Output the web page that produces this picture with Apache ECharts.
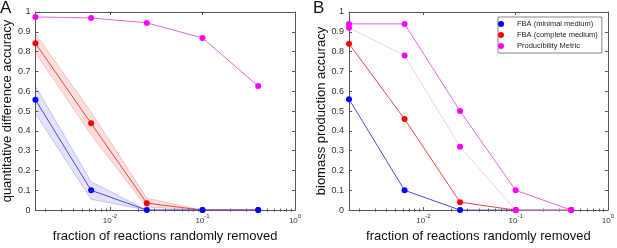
<!DOCTYPE html>
<html>
<head>
<meta charset="utf-8">
<script src="https://cdn.jsdelivr.net/npm/echarts@6/dist/echarts.min.js"></script>
<style>
  html, body { margin: 0; padding: 0; background: #fff; }
  #chart { width: 617px; height: 248px; }
</style>
</head>
<body>
<div id="chart"></div>
<script>
// fraction of reactions randomly removed (x positions, shared by both panels)
const fractions = [0.0015625, 0.00625, 0.025, 0.1, 0.4];
const minorTicks = [0.002, 0.003, 0.004, 0.005, 0.006, 0.007, 0.008, 0.009,
  0.02, 0.03, 0.04, 0.05, 0.06, 0.07, 0.08, 0.09,
  0.2, 0.3, 0.4, 0.5, 0.6, 0.7, 0.8, 0.9];
const majorTicks = [0.01, 0.1, 1];

// panel A: quantitative difference accuracy
const aMinimal = [0.557, 0.10, 0, 0, 0];
const aMinimalLow = [0.488, 0.055, 0, 0, 0];
const aMinimalHigh = [0.626, 0.143, 0, 0, 0];
const aComplete = [0.842, 0.438, 0.035, 0, 0];
const aCompleteLow = [0.795, 0.38, 0.015, 0, 0];
const aCompleteHigh = [0.89, 0.495, 0.06, 0, 0];
const aProducibility = [0.975, 0.970, 0.945, 0.869, 0.626];

// panel B: biomass production accuracy
const bMinimal = [0.56, 0.10, 0, 0, 0];
const bComplete = [0.84, 0.46, 0.04, 0, 0];
const bProducibilityLight = [0.92, 0.78, 0.32, 0, 0];
const bProducibility = [0.94, 0.94, 0.50, 0.10, 0];

const legendNames = ["FBA (minimal medium)", "FBA (complete medium)", "Producibility Metric"];

const pts = vals => fractions.map((f, i) => [f, vals[i]]);

const frameColor = "#555";
const labelColor = "#333";
const font = "Arial, 'Liberation Sans', sans-serif";

function xAxes(grid) {
  const base = {
    type: "log", gridIndex: grid, min: fractions[0], max: 1,
    axisLine: { show: true, onZero: false, lineStyle: { color: frameColor, width: 1 } },
    splitLine: { show: false }
  };
  return [
    Object.assign({}, base, {
      position: "bottom",
      name: "fraction of reactions randomly removed",
      nameLocation: "middle", nameGap: 17,
      nameTextStyle: { fontFamily: font, fontSize: 13, color: "#111" },
      axisTick: { inside: true, length: 3, customValues: majorTicks, lineStyle: { color: frameColor } },
      axisLabel: {
        customValues: majorTicks, margin: 3, color: labelColor, fontFamily: font,
        formatter: v => "{b|10}{s|" + Math.round(Math.log10(v)) + "}",
        rich: {
          b: { fontSize: 8, fontFamily: font, color: labelColor, verticalAlign: "bottom", lineHeight: 12 },
          s: { fontSize: 6, fontFamily: font, color: labelColor, verticalAlign: "top" }
        }
      }
    }),
    Object.assign({}, base, {
      position: "top",
      axisTick: { inside: true, length: 3, customValues: majorTicks, lineStyle: { color: frameColor } },
      axisLabel: { show: false }
    }),
    Object.assign({}, base, {
      position: "bottom", axisLine: { show: false },
      axisTick: { inside: true, length: 1.5, customValues: minorTicks, lineStyle: { color: frameColor } },
      axisLabel: { show: false }
    }),
    Object.assign({}, base, {
      position: "top", axisLine: { show: false },
      axisTick: { inside: true, length: 1.5, customValues: minorTicks, lineStyle: { color: frameColor } },
      axisLabel: { show: false }
    })
  ];
}

function yAxes(grid, title, gap) {
  const base = {
    type: "value", gridIndex: grid, min: 0, max: 1, interval: 0.1,
    axisLine: { show: true, lineStyle: { color: frameColor, width: 1 } },
    axisTick: { inside: true, length: 3, lineStyle: { color: frameColor } },
    splitLine: { show: false }
  };
  return [
    Object.assign({}, base, {
      position: "left",
      name: title, nameLocation: "middle", nameGap: gap,
      nameTextStyle: { fontFamily: font, fontSize: 13, color: "#111" },
      axisLabel: { margin: 5, fontSize: 9, fontFamily: font, color: labelColor }
    }),
    Object.assign({}, base, { position: "right", axisLabel: { show: false } })
  ];
}

function line(name, vals, xi, yi, lineColor, markColor, z) {
  return {
    name: name, type: "line", xAxisIndex: xi, yAxisIndex: yi, data: pts(vals),
    symbol: "circle", symbolSize: 6, z: z,
    lineStyle: { color: lineColor, width: 1 },
    itemStyle: { color: markColor }
  };
}

// shaded band between lo and hi, drawn as one polygon through the axis scales
function band(lo, hi, xi, yi, edge, fill) {
  const edgeLine = vals => ({
    type: "line", xAxisIndex: xi, yAxisIndex: yi, data: pts(vals),
    symbol: "none", z: 1, silent: true,
    lineStyle: { color: edge, width: 0.8 }
  });
  return [
    {
      type: "custom", xAxisIndex: xi, yAxisIndex: yi, z: 0, silent: true,
      data: fractions.map((f, i) => [f, lo[i], hi[i]]),
      encode: { x: 0, y: [1, 2] },
      renderItem: (params, api) => {
        if (params.dataIndex !== 0) return;
        const upper = fractions.map((f, i) => api.coord([f, hi[i]]));
        const lower = fractions.map((f, i) => api.coord([f, lo[i]])).reverse();
        return {
          type: "polygon",
          shape: { points: upper.concat(lower) },
          style: { fill: fill, stroke: null }
        };
      }
    },
    edgeLine(lo),
    edgeLine(hi)
  ];
}

const chart = echarts.init(document.getElementById("chart"), null, { renderer: "canvas" });

const option = {
  animation: false,
  title: [
    { text: "A", left: 0, top: 0, textStyle: { fontFamily: font, fontSize: 17, fontWeight: "normal", color: "#111" }, padding: 0 },
    { text: "B", left: 313, top: 0, textStyle: { fontFamily: font, fontSize: 17, fontWeight: "normal", color: "#111" }, padding: 0 }
  ],
  grid: [
    { left: 33, right: 322, top: 12, bottom: 35 },
    { left: 349, right: 5, top: 12, bottom: 35 }
  ],
  legend: {
    data: legendNames,
    orient: "vertical", left: 498, top: 17,
    icon: "circle", itemWidth: 22, itemHeight: 6, itemGap: 3,
    padding: [3, 4, 3, 0],
    borderColor: "#333", borderWidth: 0.6,
    backgroundColor: "#fff",
    textStyle: { fontFamily: font, fontSize: 7.5, color: "#222" }
  },
  xAxis: xAxes(0).concat(xAxes(1)),
  yAxis: yAxes(0, "quantitative difference accuracy", 19).concat(yAxes(1, "biomass production accuracy", 13)),
  series: [].concat(
    band(aCompleteLow, aCompleteHigh, 0, 0, "rgba(230,90,90,0.4)", "rgba(255,0,0,0.13)"),
    band(aMinimalLow, aMinimalHigh, 0, 0, "rgba(90,90,230,0.4)", "rgba(0,0,255,0.11)"),
    [
      line(legendNames[2], aProducibility, 0, 0, "#e463e4", "#ff00ff", 3),
      line(legendNames[1], aComplete, 0, 0, "#e04848", "#ff0000", 3),
      line(legendNames[0], aMinimal, 0, 0, "#4a4ad8", "#0000ff", 4),
      line(legendNames[0], bMinimal, 4, 2, "#4a4ad8", "#0000ff", 3),
      line(legendNames[1], bComplete, 4, 2, "#e04848", "#ff0000", 3),
      line("Producibility Metric (light)", bProducibilityLight, 4, 2, "#f6c6f6", "#ff00ff", 4),
      line(legendNames[2], bProducibility, 4, 2, "#e463e4", "#ff00ff", 5)
    ]
  )
};

chart.setOption(option);
</script>
</body>
</html>
